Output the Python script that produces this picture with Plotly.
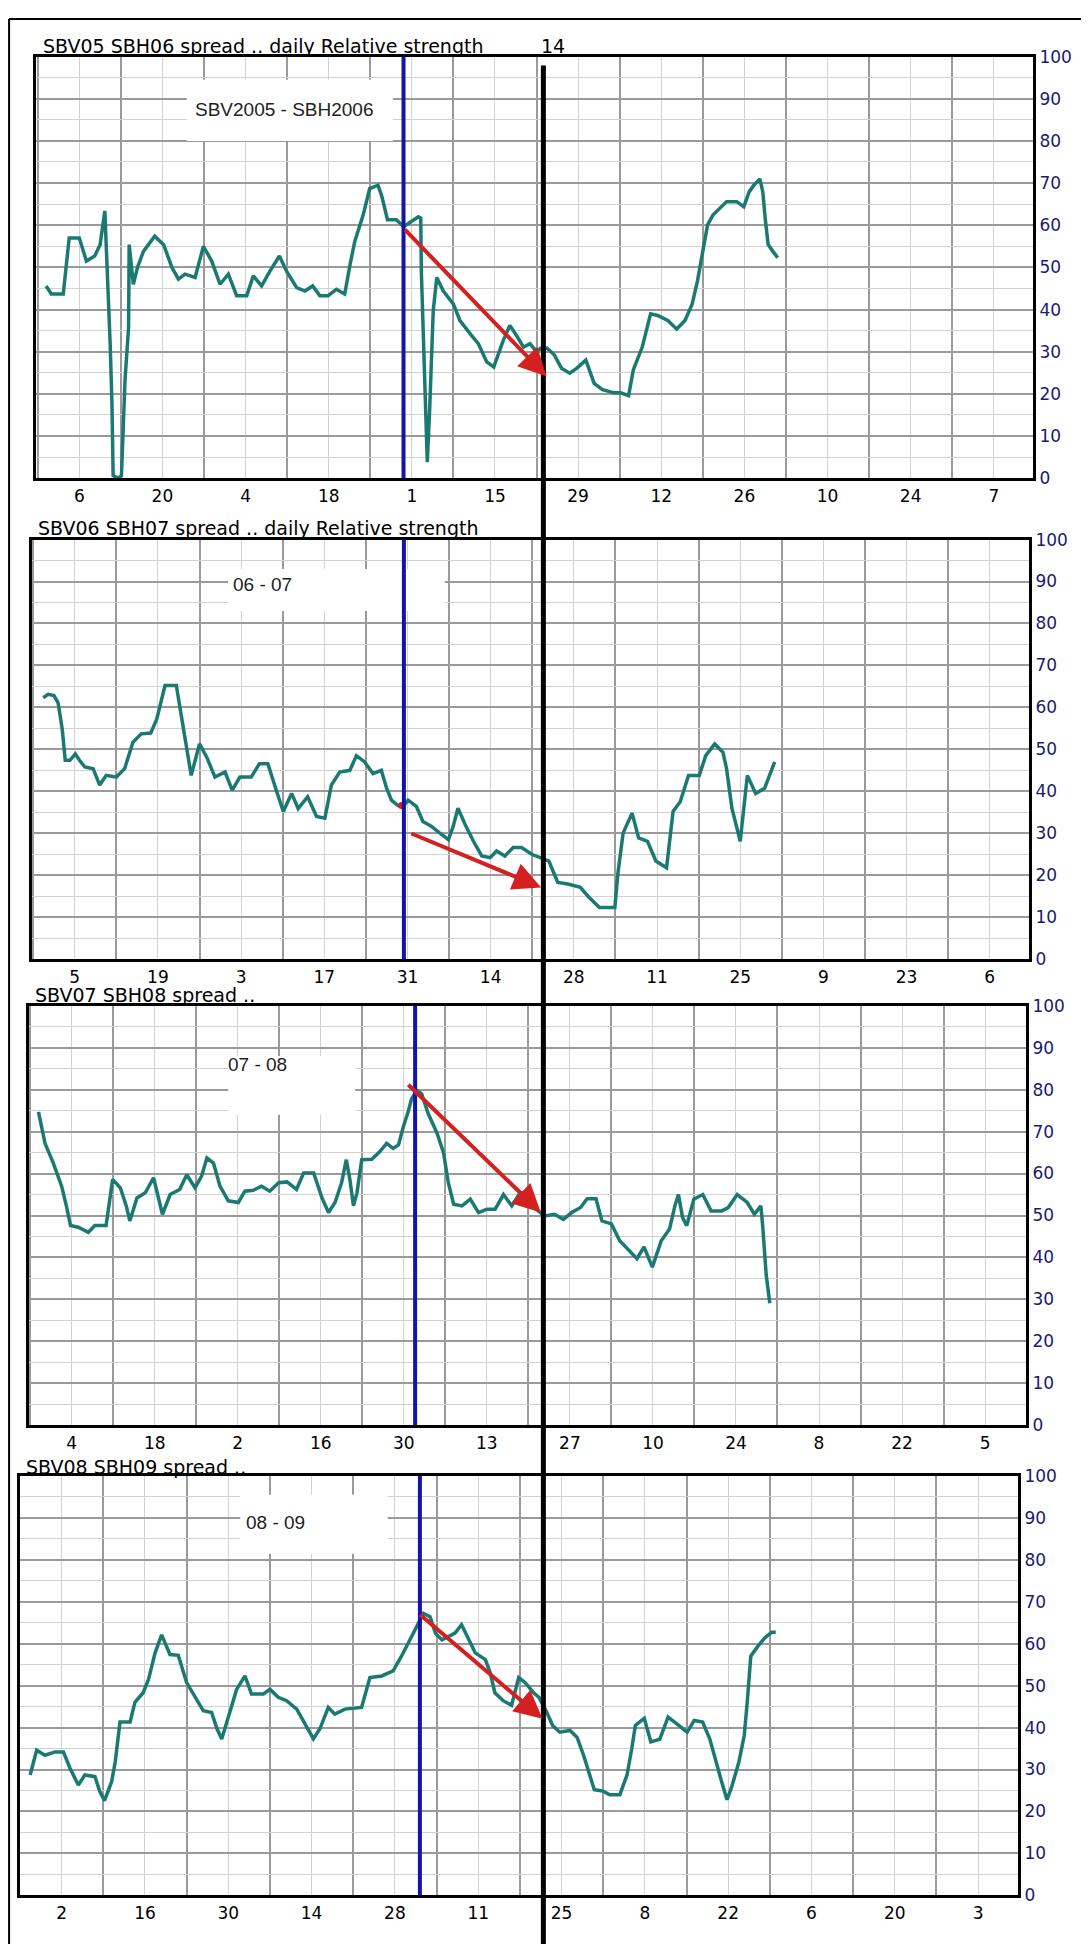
import pandas as pd
import plotly.graph_objects as go

W, H = 1089, 1944          # browser window
OFF = 8                    # default page margin in front of the plot div
FW, FH = W - OFF, H - OFF  # figure size

# ---------------- data ----------------
# x values: days since the first labelled Monday of each panel
p1_start = "2005-06-06"
p1_day = [-5.6, -4.7, -2.7, -1.7, 0.0, 1.2, 2.6, 3.5, 4.3, 4.7,
          5.2, 5.5, 5.7, 6.6, 7.1, 7.7, 8.3, 8.4, 9.1, 9.8,
          10.8, 12.7, 14.2, 15.6, 16.7, 17.8, 19.5, 20.9, 22.3, 23.7,
          25.1, 26.5, 28.2, 29.3, 30.7, 32.1, 33.7, 34.9, 36.6, 38.0,
          39.3, 40.5, 41.9, 43.3, 44.7, 45.6, 46.4, 47.8, 48.9, 50.3,
          50.9, 51.9, 53.4, 54.6, 55.1, 57.1, 57.5, 57.6, 57.9, 58.2,
          58.6, 59.0, 59.6, 60.2, 61.3, 63.0, 64.1, 65.8, 67.2, 68.6,
          69.8, 71.4, 72.5, 73.6, 74.8, 75.9, 77.0, 77.7, 78.8, 80.0,
          81.2, 82.6, 83.8, 85.3, 86.7, 88.1, 89.9, 91.3, 92.5, 93.3,
          94.8, 96.2, 97.4, 99.1, 100.6, 102.0, 103.2, 104.1, 104.9, 105.8,
          106.7, 107.8, 109.0, 110.7, 111.9, 112.8, 113.6, 114.6, 115.1, 115.5,
          116.0, 116.8, 117.6]
p1_rs = [45.6, 43.7, 43.7, 57.0, 57.0, 51.5, 52.7, 55.4, 63.4, 50.7,
         31.9, 17.8, 0.6, 0.0, 0.6, 23.3, 35.8, 55.4, 46.0, 50.0,
         53.8, 57.4, 55.4, 50.0, 47.2, 48.4, 47.6, 55.0, 51.5, 46.0,
         48.4, 43.3, 43.3, 48.0, 45.6, 49.1, 52.7, 49.1, 45.2, 44.4,
         45.6, 43.3, 43.3, 44.8, 43.7, 50.7, 56.2, 62.4, 68.7, 69.5,
         67.1, 61.3, 61.3, 59.7, 60.1, 62.0, 61.7, 49.1, 33.5, 17.8,
         3.8, 16.3, 39.7, 47.6, 44.4, 41.3, 37.4, 34.3, 31.9, 27.6,
         26.4, 32.7, 36.2, 33.9, 31.1, 31.9, 30.0, 30.8, 30.8, 29.2,
         26.1, 24.9, 26.1, 28.0, 22.5, 21.0, 20.3, 20.2, 19.6, 25.7,
         31.1, 39.0, 38.6, 37.4, 35.4, 37.4, 41.3, 46.8, 53.0, 60.1,
         62.4, 64.0, 65.6, 65.6, 64.4, 67.9, 69.5, 71.0, 67.9, 61.7,
         55.4, 53.8, 52.3]

p2_start = "2006-06-05"
p2_day = [-5.3, -4.5, -3.5, -2.8, -2.1, -1.6, -0.8, 0.1, 0.8, 1.7,
          3.1, 4.2, 5.3, 7.0, 8.4, 9.8, 11.2, 12.8, 13.8, 15.2,
          17.1, 18.0, 18.8, 19.6, 20.2, 21.0, 22.2, 23.6, 25.3, 26.5,
          27.8, 29.7, 31.1, 32.5, 34.0, 35.1, 36.5, 37.6, 39.2, 40.7,
          42.1, 43.2, 44.6, 46.3, 47.4, 48.8, 50.2, 51.6, 52.5, 53.3,
          54.4, 55.3, 56.1, 57.5, 58.6, 60.0, 61.4, 62.9, 63.7, 64.5,
          65.7, 67.1, 68.5, 69.9, 71.0, 72.4, 73.8, 75.2, 76.9, 78.3,
          79.8, 80.7, 81.3, 83.0, 85.1, 86.5, 88.3, 90.9, 91.4, 92.3,
          93.8, 94.9, 96.4, 97.8, 99.6, 100.7, 101.9, 103.3, 105.1, 106.2,
          107.7, 109.1, 109.7, 110.6, 112.0, 113.2, 114.6, 116.1, 117.8]
p2_rs = [62.3, 63.1, 62.8, 61.1, 54.8, 47.4, 47.4, 48.9, 47.4, 45.8,
         45.4, 41.5, 43.8, 43.4, 45.4, 51.7, 53.7, 53.9, 57.2, 65.2,
         65.2, 57.2, 50.1, 43.8, 47.0, 51.3, 48.2, 43.4, 44.6, 40.3,
         43.4, 43.4, 46.6, 46.6, 39.9, 35.2, 39.5, 35.9, 38.7, 34.0,
         33.6, 41.5, 44.6, 45.0, 48.5, 47.0, 44.2, 45.0, 40.7, 37.9,
         36.6, 36.4, 37.9, 36.4, 32.8, 31.7, 30.1, 28.5, 31.7, 36.0,
         32.1, 28.1, 24.6, 24.2, 25.8, 24.6, 26.6, 26.6, 25.0, 24.2,
         23.4, 20.3, 18.3, 17.9, 17.1, 14.8, 12.3, 12.3, 20.3, 30.1,
         34.8, 28.9, 28.1, 23.4, 21.8, 35.2, 37.5, 43.8, 43.8, 48.5,
         51.3, 49.3, 45.4, 36.0, 28.1, 43.8, 39.5, 40.7, 47.0]

p3_start = "2007-06-04"
p3_day = [-5.6, -4.5, -3.1, -1.7, -0.9, -0.2, 1.1, 2.8, 3.9, 5.8,
          6.9, 8.2, 9.2, 9.8, 11.0, 12.4, 13.8, 14.4, 15.3, 16.6,
          18.2, 19.4, 20.8, 21.9, 22.8, 23.9, 25.0, 26.4, 28.1, 29.2,
          30.6, 32.0, 33.4, 34.9, 36.3, 37.9, 39.1, 40.8, 42.2, 43.3,
          44.4, 45.5, 46.3, 46.9, 47.5, 48.1, 48.9, 50.6, 52.0, 53.1,
          54.2, 55.1, 55.9, 56.8, 57.3, 58.2, 59.0, 60.1, 61.6, 62.7,
          63.5, 64.4, 65.8, 67.2, 68.6, 70.0, 71.4, 72.8, 74.2, 75.6,
          76.9, 78.3, 79.7, 81.4, 82.9, 84.3, 85.8, 86.9, 88.4, 89.4,
          91.0, 92.4, 93.9, 95.3, 96.5, 97.9, 99.4, 100.8, 101.7, 102.3,
          103.0, 103.7, 104.9, 106.4, 107.8, 109.6, 110.7, 112.2, 113.9, 115.1,
          116.2, 116.5, 117.1, 117.7]
p3_rs = [74.7, 67.2, 62.5, 57.0, 52.3, 47.6, 47.2, 46.0, 47.6, 47.6,
         58.6, 56.6, 52.3, 48.7, 54.2, 55.4, 59.0, 55.4, 50.3, 55.0,
         56.2, 59.7, 56.6, 59.4, 63.7, 62.5, 57.0, 53.5, 53.1, 55.8,
         56.0, 57.0, 55.8, 57.8, 58.0, 56.2, 60.1, 60.1, 54.2, 50.7,
         53.1, 57.8, 63.3, 58.6, 52.3, 55.4, 63.3, 63.4, 65.3, 67.2,
         66.0, 66.8, 71.1, 75.1, 77.8, 79.8, 79.0, 74.3, 69.6, 64.9,
         57.8, 52.7, 52.3, 53.9, 50.7, 51.5, 51.5, 55.0, 52.3, 55.4,
         55.4, 51.5, 49.9, 50.3, 49.1, 50.7, 51.9, 54.0, 54.0, 48.7,
         48.0, 44.0, 41.7, 39.7, 42.5, 37.7, 44.0, 46.8, 52.3, 55.0,
         49.5, 47.6, 53.9, 55.0, 51.1, 51.1, 51.9, 55.0, 53.1, 50.3,
         52.3, 47.6, 35.8, 29.1]

p4_start = "2008-06-02"
p4_day = [-5.3, -4.2, -2.8, -1.1, 0.3, 1.4, 2.8, 3.9, 5.6, 6.4,
          7.2, 8.4, 9.0, 9.8, 11.5, 12.3, 13.7, 14.6, 15.7, 16.8,
          18.2, 19.6, 21.0, 22.7, 23.8, 25.2, 26.1, 26.9, 28.0, 29.4,
          30.8, 31.9, 33.9, 35.0, 36.4, 37.8, 39.5, 40.9, 42.3, 43.4,
          44.8, 45.9, 47.6, 50.4, 51.8, 53.8, 55.7, 57.1, 58.5, 59.7,
          60.8, 61.9, 62.8, 63.9, 65.0, 66.1, 67.2, 68.4, 69.5, 71.2,
          72.0, 72.8, 74.2, 75.6, 76.8, 77.9, 79.3, 80.2, 81.4, 82.5,
          83.7, 85.4, 86.6, 87.7, 88.6, 89.5, 90.9, 92.1, 93.8, 95.0,
          95.8, 96.4, 97.9, 99.0, 100.5, 101.9, 103.7, 105.1, 106.3, 107.7,
          108.9, 110.0, 110.9, 111.8, 112.6, 113.8, 114.7, 115.2, 115.8, 117.0,
          118.1, 119.3, 120.0]
p4_rs = [28.7, 34.6, 33.4, 34.2, 34.2, 30.3, 26.3, 28.7, 28.3, 24.8,
         22.6, 27.1, 31.8, 41.3, 41.3, 46.0, 48.3, 51.5, 57.8, 62.1,
         57.4, 57.2, 50.7, 46.8, 44.0, 43.6, 39.7, 37.3, 42.8, 49.1,
         52.3, 48.0, 48.0, 49.1, 47.2, 46.4, 44.4, 40.9, 37.3, 39.7,
         44.8, 43.2, 44.4, 44.8, 51.9, 52.3, 53.5, 57.0, 60.9, 64.5,
         67.2, 66.4, 62.5, 60.9, 61.7, 62.5, 64.5, 60.9, 57.8, 56.2,
         53.1, 48.3, 46.4, 45.3, 51.9, 50.7, 48.3, 47.2, 44.0, 40.5,
         38.9, 39.3, 37.7, 33.4, 29.5, 25.2, 24.9, 24.0, 24.0, 28.7,
         35.0, 40.5, 42.2, 36.6, 37.2, 42.5, 40.5, 38.9, 41.7, 41.3,
         37.3, 31.4, 27.1, 22.8, 25.9, 31.8, 38.1, 46.0, 57.0, 59.4,
         61.3, 62.7, 62.7]

p1_ticks = ["6", "20", "4", "18", "1", "15", "29", "12", "26", "10", "24", "7"]
p2_ticks = ["5", "19", "3", "17", "31", "14", "28", "11", "25", "9", "23", "6"]
p3_ticks = ["4", "18", "2", "16", "30", "13", "27", "10", "24", "8", "22", "5"]
p4_ticks = ["2", "16", "30", "14", "28", "11", "25", "8", "22", "6", "20", "3"]
y_ticks = [0, 10, 20, 30, 40, 50, 60, 70, 80, 90, 100]

titles = ["SBV05 SBH06 spread .. daily Relative strength",
          "SBV06 SBH07 spread .. daily Relative strength",
          "SBV07 SBH08 spread ..",
          "SBV08 SBH09 spread .."]
labels = ["SBV2005 - SBH2006", "06 - 07", "07 - 08", "08 - 09"]

# blue marker line (day), red arrow [start day, start value, end day, end value]
blue_day = [54.6, 55.4, 57.9, 60.2]
arrows = [[54.6, 59.3, 78.7, 24.1],
          [56.4, 30.1, 78.5, 17.1],
          [56.5, 81.5, 79.1, 50.7],
          [60.0, 67.2, 80.8, 42.1]]
black_day_p1 = 78.15

# ---------------- layout geometry (page pixels) ----------------
frames = [  # left, right, top, bottom
    (36, 1033, 47, 473),
    (32, 1029, 535, 959),
    (29, 1026, 1006, 1430),
    (20, 1018, 1481, 1905),
]
xrange_days = [(-7.29, 160.6), (-7.19, 160.6), (-7.2, 160.9), (-7.0, 160.7)]
title_pos = [(41, 36), (36, 523), (33, 995), (24, 1472)]
label_pos = [(34.5, 87.5), (31.6, 89.2), (31.4, 86.1), (36.0, 88.9)]
label_box = [(18.1, 52.8, 80.0, 94.5), (25.8, 62.3, 83.0, 93.0),
             (26.4, 47.8, 74.0, 88.0), (30.0, 54.8, 81.4, 95.5)]

starts = [p1_start, p2_start, p3_start, p4_start]
days = [p1_day, p2_day, p3_day, p4_day]
vals = [p1_rs, p2_rs, p3_rs, p4_rs]
ticks = [p1_ticks, p2_ticks, p3_ticks, p4_ticks]

TEAL = "#1a7a72"
BLUE = "#1414aa"
RED = "#d42020"
NAVY = "#1a1a70"
DARK_GRID = "#9a9a9a"
LIGHT_GRID = "#d2d2d2"
FONT = "DejaVu Sans"
DAY_MS = 86400000


def fx(px):
    return (px - OFF) / FW


def fy(py):
    return (FH - (py - OFF)) / FH


def d2s(start, d):
    t = pd.Timestamp(start) + pd.Timedelta(days=float(d))
    return t.strftime("%Y-%m-%d %H:%M:%S")


fig = go.Figure()
shapes = []
annotations = []
layout = {}

for i in range(4):
    n = i + 1
    sfx = "" if n == 1 else str(n)
    xa, ya = "xaxis" + sfx, "yaxis" + sfx
    xr, yr = "x" + sfx, "y" + sfx
    L, R, T, B = frames[i]
    st = starts[i]
    assert len(days[i]) == len(vals[i]), (i, len(days[i]), len(vals[i]))

    fig.add_trace(go.Scatter(
        x=[d2s(st, d) for d in days[i]], y=vals[i],
        xaxis=xr, yaxis=yr, mode="lines",
        line=dict(color=TEAL, width=3.5), showlegend=False, hoverinfo="skip"))

    tickvals = [d2s(st, 14 * k) for k in range(len(ticks[i]))]
    layout[xa] = dict(
        domain=[fx(L), fx(R)], anchor=yr, type="date",
        range=[d2s(st, xrange_days[i][0]), d2s(st, xrange_days[i][1])],
        tickmode="array", tickvals=tickvals, ticktext=ticks[i],
        showgrid=True, gridcolor=LIGHT_GRID, gridwidth=1,
        minor=dict(tickmode="linear", tick0=d2s(st, 7), dtick=14 * DAY_MS,
                   showgrid=True, gridcolor=DARK_GRID, gridwidth=1.5),
        showline=True, mirror=True, linecolor="black", linewidth=3,
        ticks="", zeroline=False,
        tickfont=dict(family=FONT, size=17, color="black"),
    )
    layout[ya] = dict(
        domain=[fy(B), fy(T)], anchor=xr, side="right",
        range=[0, 100], tickmode="array", tickvals=y_ticks,
        ticktext=[str(v) for v in y_ticks],
        showgrid=True, gridcolor=DARK_GRID, gridwidth=1.5,
        minor=dict(tickmode="linear", tick0=0, dtick=5, showgrid=True,
                   gridcolor=LIGHT_GRID, gridwidth=1),
        showline=True, mirror=True, linecolor="black", linewidth=3,
        ticks="", zeroline=False,
        tickfont=dict(family=FONT, size=17, color=NAVY),
    )

    # white label box + label text
    b = label_box[i]
    shapes.append(dict(type="rect", xref=xr, yref=yr, layer="between",
                       x0=d2s(st, b[0]), x1=d2s(st, b[1]), y0=b[2], y1=b[3],
                       fillcolor="white", line=dict(width=0)))
    lp = label_pos[i]
    annotations.append(dict(xref=xr, yref=yr, x=d2s(st, lp[0]), y=lp[1],
                            text=labels[i], showarrow=False,
                            font=dict(family="Liberation Sans", size=19,
                                      color="#222222")))

    # blue vertical line
    shapes.append(dict(type="line", xref=xr, yref=yr,
                       x0=d2s(st, blue_day[i]), x1=d2s(st, blue_day[i]),
                       y0=0, y1=100, line=dict(color=BLUE, width=4)))

    # red arrow
    a = arrows[i]
    annotations.append(dict(xref=xr, yref=yr, axref=xr, ayref=yr,
                            x=d2s(st, a[2]), y=a[3],
                            ax=d2s(st, a[0]), ay=a[1],
                            text="", showarrow=True, arrowhead=2,
                            arrowsize=1.4, arrowwidth=4, arrowcolor=RED,
                            standoff=0, startstandoff=0))

    # title
    tx, ty = title_pos[i]
    annotations.append(dict(xref="paper", yref="paper", x=fx(tx), y=fy(ty),
                            xanchor="left", yanchor="middle", text=titles[i],
                            showarrow=False,
                            font=dict(family=FONT, size=19, color="black")))

# trailing "14" on first title
annotations.append(dict(xref="paper", yref="paper", x=fx(539), y=fy(36),
                        xanchor="left", yanchor="middle", text="14",
                        showarrow=False,
                        font=dict(family=FONT, size=19, color="black")))

# small red dot on panel 2 at the blue line
fig.add_trace(go.Scatter(x=[d2s(p2_start, 55.0)], y=[36.6], xaxis="x2", yaxis="y2",
                         mode="markers", marker=dict(color=RED, size=7),
                         showlegend=False, hoverinfo="skip"))

# black vertical line spanning all panels
shapes.append(dict(type="line", xref="x", yref="paper",
                   x0=d2s(p1_start, black_day_p1), x1=d2s(p1_start, black_day_p1),
                   y0=-0.01, y1=fy(56), line=dict(color="black", width=5)))

# outer page border (left and top)
shapes.append(dict(type="line", xref="paper", yref="paper",
                   x0=0.001, x1=0.001, y0=-0.01, y1=0.9995,
                   line=dict(color="black", width=2)))
shapes.append(dict(type="line", xref="paper", yref="paper",
                   x0=0.001, x1=1.01, y0=0.9995, y1=0.9995,
                   line=dict(color="black", width=2)))

fig.update_layout(
    width=FW, height=FH, margin=dict(l=0, r=0, t=0, b=0),
    paper_bgcolor="white", plot_bgcolor="white", showlegend=False,
    font=dict(family=FONT), shapes=shapes, annotations=annotations,
    **layout,
)

fig.write_html("out.html")
